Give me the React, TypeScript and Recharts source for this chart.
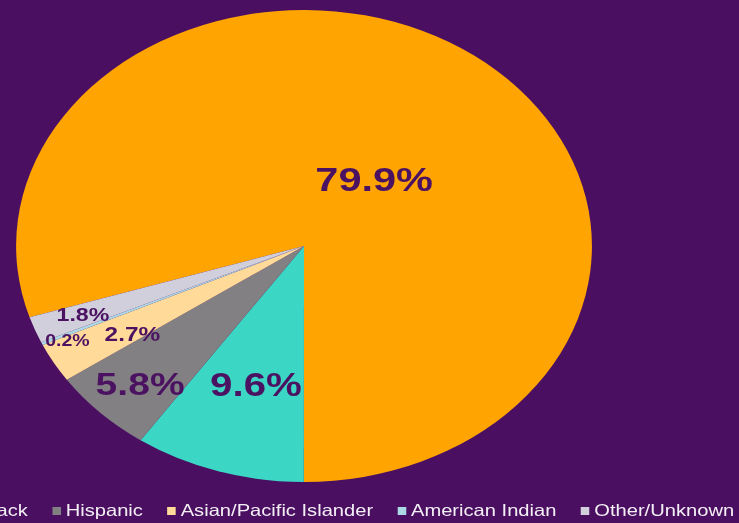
import React from 'react';
import { PieChart, Pie, Cell, Legend } from 'recharts';

// ---- data ----
const categories = ['White', 'Black', 'Hispanic', 'Asian/Pacific Islander', 'American Indian', 'Other/Unknown'];
const shares = [79.9, 9.6, 5.8, 2.7, 0.2, 1.8];
const colors = ['#FFA400', '#3CD6C5', '#828082', '#FFDA98', '#ADD8E6', '#D2CFDD'];

// ---- styling ----
const BG = '#4a0f61';
const LABEL_COLOR = '#4b1262';
const STRETCH = 1.22; // horizontal stretch of the whole picture
const labelRadiusFrac = [0.374, 0.612, 0.816, 0.704, 0.914, 0.82];
const labelAngleNudge = [-4.4, 1.5, 0.8, 2.5, 1.5, -0.3];
const labelFontSize = [34, 33, 32, 20, 16, 19];

const data = categories.map((name, i) => ({ name, value: shares[i] }));

const RAD = Math.PI / 180;

const renderLabel = (props: any) => {
  const { cx, cy, midAngle, outerRadius, index, value } = props;
  const a = (midAngle + labelAngleNudge[index]) * RAD;
  const r = outerRadius * labelRadiusFrac[index];
  const x = cx + r * Math.cos(a);
  const y = cy - r * Math.sin(a);
  return (
    <text
      x={x}
      y={y}
      textAnchor="middle"
      dominantBaseline="central"
      fill={LABEL_COLOR}
      fontSize={labelFontSize[index]}
      fontWeight="bold"
      fontFamily="Arial, 'Liberation Sans', sans-serif"
    >
      {`${Number(value).toFixed(1)}%`}
    </text>
  );
};

const renderLegend = (props: any) => {
  const items = [...(props.payload || [])].sort(
    (a: any, b: any) => categories.indexOf(a.value) - categories.indexOf(b.value)
  );
  return (
    <div
      style={{
        display: 'flex',
        justifyContent: 'center',
        whiteSpace: 'nowrap',
        fontFamily: "Arial, 'Liberation Sans', sans-serif",
        fontSize: 16.5,
        color: '#f3eff5',
        lineHeight: '19px',
      }}
    >
      {items.map((p: any, i: number) => (
        <div key={i} style={{ display: 'flex', alignItems: 'center', marginRight: i < items.length - 1 ? 20 : 0 }}>
          <span style={{ display: 'inline-block', width: 7, height: 8, background: p.color, marginRight: 4 }} />
          <span>{p.value}</span>
        </div>
      ))}
    </div>
  );
};

export default function App() {
  return (
    <div style={{ position: 'absolute', left: 0, top: 0, width: 739, height: 523, overflow: 'hidden', background: BG }}>
      <style>{`body{margin:0;background:${BG};overflow:hidden}`}</style>
      <div style={{ transform: `scaleX(${STRETCH})`, transformOrigin: '0 0', width: 610, height: 523 }}>
        <PieChart width={610} height={523} margin={{ top: 0, right: 0, bottom: 0, left: 0 }}>
          <Pie
            data={data}
            dataKey="value"
            nameKey="name"
            cx={249.2}
            cy={246}
            outerRadius={236}
            startAngle={-162.4}
            endAngle={-522.4}
            stroke="none"
            labelLine={false}
            label={renderLabel}
            isAnimationActive={false}
          >
            {data.map((d, i) => (
              <Cell key={d.name} fill={colors[i]} />
            ))}
          </Pie>
          <Legend
            verticalAlign="bottom"
            content={renderLegend}
            wrapperStyle={{ left: -100, width: 700, top: 501, bottom: 'auto' }}
          />
        </PieChart>
      </div>
    </div>
  );
}
